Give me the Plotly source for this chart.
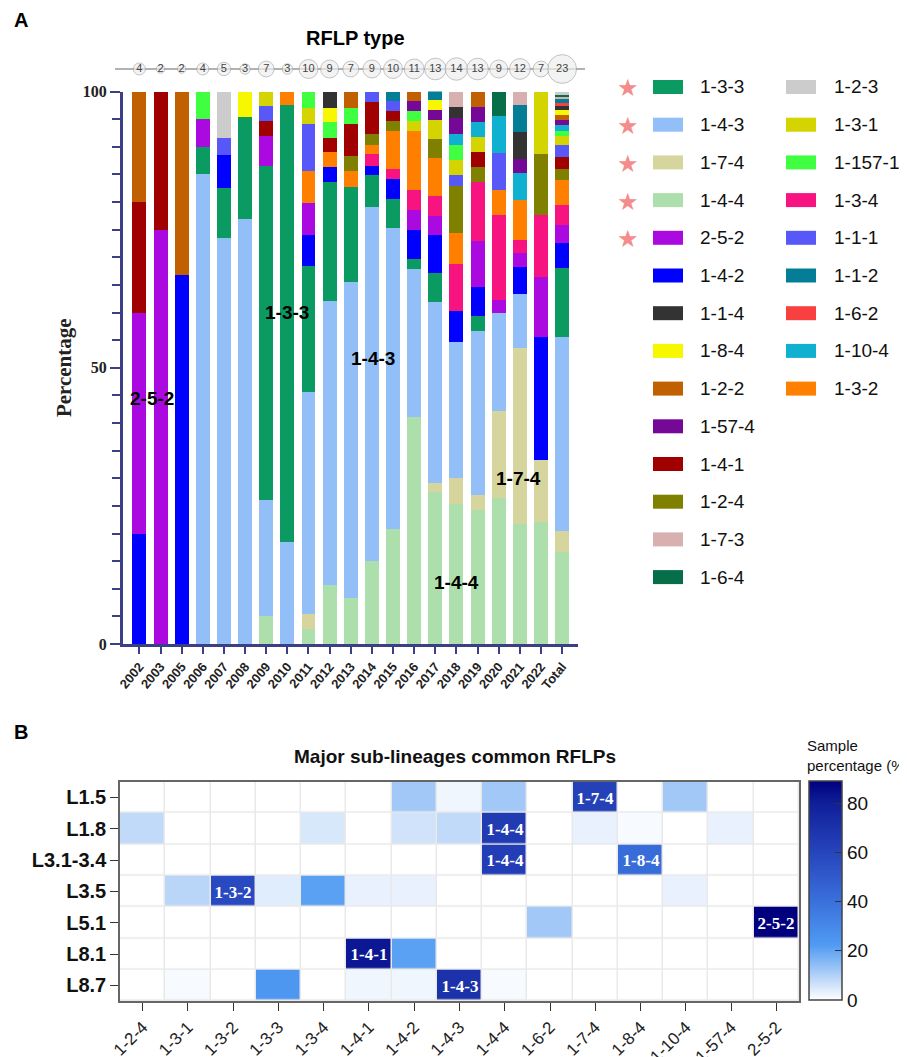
import plotly.graph_objects as go
import numpy as np

# page has an 8px body margin: the figure spans 8..907 x 8..1057 of the window
OFF = 8
W, H = 907 - OFF, 1057 - OFF
def fx(px): return (px - OFF) / W
def fy(py): return 1 - (py - OFF) / H

SANS = "Liberation Sans, Arial, sans-serif"
SERIF = "Liberation Serif, Times New Roman, serif"
NAVY = "#3b3f86"

# ---------------- Panel A data ----------------
years = ["2002", "2003", "2005", "2006", "2007", "2008", "2009", "2010", "2011", "2012",
         "2013", "2014", "2015", "2016", "2017", "2018", "2019", "2020", "2021", "2022", "Total"]
sample_counts = [4, 2, 2, 4, 5, 3, 7, 3, 10, 9, 7, 9, 10, 11, 13, 14, 13, 9, 12, 7, 23]

r_1_4_4 = [0, 0, 0, 0, 0, 0, 5, 0, 2.8, 10.7, 8.4, 15, 20.9, 41, 27.5, 25.3, 24.2, 26.5, 21.8, 22.1, 16.6]
r_1_7_4 = [0, 0, 0, 0, 0, 0, 0, 0, 2.7, 0, 0, 0, 0, 0, 1.7, 4.8, 2.7, 15.6, 31.7, 11.2, 3.9]
r_1_4_3 = [0, 0, 0, 85, 73.5, 77, 21, 18.5, 40.1, 51.3, 57.2, 64.1, 54.4, 26.8, 32.7, 24.5, 29.8, 17.8, 9.8, 0, 35.1]
r_1_3_3 = [0, 0, 0, 5, 9, 18.3, 60.5, 79, 22.9, 21.6, 17.2, 5.7, 5.3, 1.8, 5.2, 0, 2.7, 0, 0, 0, 12.4]
r_1_4_2 = [20, 0, 66.7, 0, 6, 0, 0, 0, 5.6, 2.8, 0, 1.8, 3.5, 5.3, 6.9, 5.7, 5.3, 0, 4.9, 22.2, 4.6]
r_2_5_2 = [40, 75, 0, 5, 0, 0, 5.5, 0, 5.8, 0, 0, 0, 0, 3.6, 3.5, 0, 8.2, 2.3, 2.5, 11, 3.3]
r_1_3_4 = [0, 0, 0, 0, 0, 0, 0, 0, 0, 0, 0, 2.0, 1.8, 3.6, 3.5, 8.4, 10.7, 15.5, 2.4, 11.2, 3.6]
r_1_3_2 = [0, 0, 0, 0, 0, 0, 0, 2.5, 5.7, 2.6, 2.8, 1.8, 6.9, 10.7, 6.9, 5.7, 0, 4.4, 7.3, 0, 4.4]
r_1_2_4 = [0, 0, 0, 0, 0, 0, 0, 0, 0, 0, 2.8, 1.9, 1.8, 0, 3.5, 8.5, 2.7, 0, 0, 11, 2.1]
r_1_4_1 = [20, 25, 0, 0, 0, 0, 2.7, 0, 0, 2.6, 5.8, 5.8, 1.8, 0, 0, 0, 2.7, 0, 0, 0, 2.1]
r_1_1_1 = [0, 0, 0, 0, 3, 0, 2.6, 0, 8.6, 0, 0, 1.9, 1.8, 0, 0, 1.9, 0, 6.7, 0, 0, 2.3]
r_1_3_1 = [0, 0, 0, 0, 0, 0, 2.7, 0, 2.8, 0, 0, 0, 0, 1.8, 3.5, 2.8, 2.7, 0, 0, 11.3, 1.5]
r_1_157_1 = [0, 0, 0, 5, 0, 0, 0, 0, 3.0, 2.8, 2.8, 0, 0, 1.8, 0, 2.8, 0, 0, 0, 0, 0.9]
r_1_10_4 = [0, 0, 0, 0, 0, 0, 0, 0, 0, 0, 0, 0, 0, 0, 0, 1.9, 2.8, 6.7, 4.9, 0, 1.1]
r_1_57_4 = [0, 0, 0, 0, 0, 0, 0, 0, 0, 0, 0, 0, 0, 1.8, 1.7, 2.9, 2.7, 0, 2.4, 0, 0.9]
r_1_2_2 = [20, 0, 33.3, 0, 0, 0, 0, 0, 0, 0, 3.0, 0, 0, 1.8, 0, 0, 2.8, 0, 0, 0, 0.9]
r_1_8_4 = [0, 0, 0, 0, 0, 4.7, 0, 0, 0, 2.7, 0, 0, 0, 0, 1.8, 0, 0, 0, 0, 0, 0.9]
r_1_1_4 = [0, 0, 0, 0, 0, 0, 0, 0, 0, 2.9, 0, 0, 0, 0, 0, 2.0, 0, 0, 4.9, 0, 0.7]
r_1_6_2 = [0, 0, 0, 0, 0, 0, 0, 0, 0, 0, 0, 0, 0, 0, 0, 0, 0, 0, 0, 0, 0.6]
r_1_1_2 = [0, 0, 0, 0, 0, 0, 0, 0, 0, 0, 0, 0, 1.8, 0, 1.8, 0, 0, 0, 4.9, 0, 0.7]
r_1_7_3 = [0, 0, 0, 0, 0, 0, 0, 0, 0, 0, 0, 0, 0, 0, 0, 2.8, 0, 0, 2.5, 0, 0.4]
r_1_6_4 = [0, 0, 0, 0, 0, 0, 0, 0, 0, 0, 0, 0, 0, 0, 0, 0, 0, 4.5, 0, 0, 0.4]
r_1_2_3 = [0, 0, 0, 0, 8.5, 0, 0, 0, 0, 0, 0, 0, 0, 0, 0, 0, 0, 0, 0, 0, 0.6]

# stacking order (bottom -> top)
stack = [
    ("1-4-4", r_1_4_4, "#addfad"), ("1-7-4", r_1_7_4, "#d6d59e"), ("1-4-3", r_1_4_3, "#92bff8"),
    ("1-3-3", r_1_3_3, "#0a9a62"), ("1-4-2", r_1_4_2, "#0000ff"), ("2-5-2", r_2_5_2, "#aa0ae0"),
    ("1-3-4", r_1_3_4, "#f81480"), ("1-3-2", r_1_3_2, "#ff8000"), ("1-2-4", r_1_2_4, "#7f7f00"),
    ("1-4-1", r_1_4_1, "#a00000"), ("1-1-1", r_1_1_1, "#5858f8"), ("1-3-1", r_1_3_1, "#d4d400"),
    ("1-157-1", r_1_157_1, "#40ff40"), ("1-10-4", r_1_10_4, "#10b0d0"), ("1-57-4", r_1_57_4, "#760898"),
    ("1-2-2", r_1_2_2, "#c06000"), ("1-8-4", r_1_8_4, "#f7f700"), ("1-1-4", r_1_1_4, "#333333"),
    ("1-6-2", r_1_6_2, "#f84040"), ("1-1-2", r_1_1_2, "#047d96"), ("1-7-3", r_1_7_3, "#d8b0b0"),
    ("1-6-4", r_1_6_4, "#066e48"), ("1-2-3", r_1_2_3, "#cccccc"),
]
colors = {n: c for n, _, c in stack}

legend_col1 = ["1-3-3", "1-4-3", "1-7-4", "1-4-4", "2-5-2", "1-4-2", "1-1-4", "1-8-4",
               "1-2-2", "1-57-4", "1-4-1", "1-2-4", "1-7-3", "1-6-4"]
legend_col2 = ["1-2-3", "1-3-1", "1-157-1", "1-3-4", "1-1-1", "1-1-2", "1-6-2", "1-10-4", "1-3-2"]
starred = ["1-3-3", "1-4-3", "1-7-4", "1-4-4", "2-5-2"]

bar_labels = [("2-5-2", 0.6, 44.5), ("1-3-3", 7.0, 60), ("1-4-3", 11.05, 51.7),
              ("1-7-4", 17.95, 30), ("1-4-4", 15.0, 11.2)]

# ---------------- Panel B data ----------------
hm_cols = ["1-2-4", "1-3-1", "1-3-2", "1-3-3", "1-3-4", "1-4-1", "1-4-2", "1-4-3",
           "1-4-4", "1-6-2", "1-7-4", "1-8-4", "1-10-4", "1-57-4", "2-5-2"]
hm_rows = ["L1.5", "L1.8", "L3.1-3.4", "L3.5", "L5.1", "L8.1", "L8.7"]
z_L1_5 = [0, 0, 0, 0, 0, 0, 12, 2, 12, 0, 62, 0, 12, 0, 0]
z_L1_8 = [8, 0, 0, 0, 5, 0, 6, 8, 65, 0, 3, 1, 0, 3, 0]
z_L3_1 = [0, 0, 0, 0, 0, 0, 0, 0, 64, 0, 0, 42, 0, 0, 0]
z_L3_5 = [0, 9, 58, 4, 21, 3, 3, 0, 0, 0, 0, 0, 3, 0, 0]
z_L5_1 = [0, 0, 0, 0, 0, 0, 0, 0, 0, 12, 0, 0, 0, 0, 89]
z_L8_1 = [0, 0, 0, 0, 0, 82, 21, 0, 0, 0, 0, 0, 0, 0, 0]
z_L8_7 = [0, 1, 0, 24, 0, 2, 2, 70, 1, 0, 0, 0, 0, 0, 0]
z = [z_L1_5, z_L1_8, z_L3_1, z_L3_5, z_L5_1, z_L8_1, z_L8_7]
hm_text = [[hm_cols[j] if v >= 40 else "" for j, v in enumerate(row)] for row in z]

fig = go.Figure()

for name, vals, col in stack:
    fig.add_trace(go.Bar(x=years, y=vals, name=name, marker=dict(color=col, line=dict(width=0)),
                         showlegend=False, xaxis="x", yaxis="y", width=0.66))

# sample-size circles
fig.add_trace(go.Scatter(
    x=years, y=[0] * len(years), mode="markers+text", text=[str(c) for c in sample_counts],
    textposition="middle center", textfont=dict(size=11, color="#444", family=SANS),
    marker=dict(size=[6 * np.sqrt(c) for c in sample_counts], color="#eeeeee",
                line=dict(color="#aaaaaa", width=1)),
    xaxis="x", yaxis="y3", showlegend=False, cliponaxis=False, hoverinfo="skip"))

fig.add_trace(go.Heatmap(
    z=z, x=hm_cols, y=hm_rows, text=hm_text, texttemplate="%{text}",
    textfont=dict(family=SERIF, size=17, color="white", weight="bold"),
    colorscale=[[0, "#ffffff"], [0.1, "#bad6f8"], [0.25, "#509bf3"], [0.45, "#3a70dc"],
                [0.7, "#2440b8"], [0.9, "#0f1f98"], [1, "#00007f"]],
    zmin=0, zmax=89, xgap=1.5, ygap=1.5, xaxis="x2", yaxis="y2",
    colorbar=dict(x=fx(809), xanchor="left", xpad=0, y=fy(890.4), yanchor="middle", ypad=0,
                  lenmode="pixels", len=219, thickness=33, outlinewidth=1.5, outlinecolor="#444",
                  tickvals=[0, 20, 40, 60, 80], ticks="inside", ticklen=7, tickcolor="#333",
                  tickfont=dict(size=19, family=SANS, color="#111"))))

shapes = []
annotations = []

# line behind circles
shapes.append(dict(type="line", xref="paper", yref="y3", x0=fx(115), x1=fx(585), y0=0, y1=0,
                   line=dict(color="#999999", width=1.5), layer="below"))
# heatmap gap background
shapes.append(dict(type="rect", xref="x2 domain", yref="y2 domain", x0=0, x1=1, y0=0, y1=1,
                   fillcolor="#e9e9e9", line=dict(width=0), layer="below"))

# custom legend
def legend_item(name, xs, xt, i):
    yc = 87 + 37.7 * i
    shapes.append(dict(type="rect", xref="paper", yref="paper", x0=fx(xs), x1=fx(xs + 30),
                       y0=fy(yc + 7), y1=fy(yc - 7), fillcolor=colors[name], line=dict(width=0)))
    annotations.append(dict(xref="paper", yref="paper", x=fx(xt), y=fy(yc), text=name, showarrow=False,
                            xanchor="left", yanchor="middle", font=dict(size=19, family=SANS, color="#111")))
    if name in starred:
        annotations.append(dict(xref="paper", yref="paper", x=fx(628), y=fy(yc), text="★", showarrow=False,
                                xanchor="center", yanchor="middle", font=dict(size=24, color="#f58c8c")))

for i, n in enumerate(legend_col1):
    legend_item(n, 653, 698, i)
for i, n in enumerate(legend_col2):
    legend_item(n, 786, 832, i)

for txt, xi, yv in bar_labels:
    annotations.append(dict(xref="x", yref="y", x=xi, y=yv, text=txt, showarrow=False,
                            font=dict(size=19, family=SANS, color="black", weight="bold")))

annotations += [
    dict(xref="paper", yref="paper", x=fx(12), y=fy(20), text="A", showarrow=False, xanchor="left",
         yanchor="middle", font=dict(size=20, family=SANS, color="black", weight="bold")),
    dict(xref="paper", yref="paper", x=fx(12), y=fy(732), text="B", showarrow=False, xanchor="left",
         yanchor="middle", font=dict(size=20, family=SANS, color="black", weight="bold")),
    dict(xref="paper", yref="paper", x=fx(355), y=fy(38), text="RFLP type", showarrow=False,
         yanchor="middle", font=dict(size=20, family=SANS, color="black", weight="bold")),
    dict(xref="paper", yref="paper", x=fx(455), y=fy(756), text="Major sub-lineages common RFLPs",
         showarrow=False, yanchor="middle", font=dict(size=19, family=SANS, color="#111", weight="bold")),
    dict(xref="paper", yref="paper", x=fx(805), y=fy(735), text="Sample<br>percentage (%)",
         showarrow=False, xanchor="left", yanchor="top", align="left",
         font=dict(size=15, family=SANS, color="#111")),
]

fig.update_layout(
    width=W, height=H, margin=dict(l=0, r=0, t=0, b=0, autoexpand=False),
    paper_bgcolor="white", plot_bgcolor="white", barmode="stack", bargap=0.34,
    showlegend=False, shapes=shapes, annotations=annotations,
    xaxis=dict(domain=[fx(123), fx(578)], type="category", range=[-0.775, 20.75],
               showline=True, linecolor=NAVY, linewidth=3, ticks="outside", ticklen=7,
               tickwidth=2, tickcolor=NAVY, tickangle=-50, automargin=False,
               tickfont=dict(size=13, family=SANS, color="#222", weight="bold"),
               showgrid=False, anchor="y", fixedrange=True),
    yaxis=dict(domain=[fy(644), fy(91.5)], range=[0, 100], tickvals=[0, 50, 100],
               showline=True, linecolor=NAVY, linewidth=3, ticks="outside", ticklen=10,
               tickwidth=2, tickcolor=NAVY, automargin=False,
               minor=dict(dtick=5, ticks="outside", ticklen=8, tickwidth=2, tickcolor=NAVY),
               tickfont=dict(size=16, family=SERIF, color="#222", weight="bold"),
               title=dict(text="Percentage", standoff=6,
                          font=dict(size=21, family=SERIF, color="#222", weight="bold")),
               showgrid=False, zeroline=False, anchor="x"),
    yaxis3=dict(domain=[fy(80), fy(58)], range=[-1, 1], visible=False, anchor="x"),
    xaxis2=dict(domain=[fx(120), fx(799)], anchor="y2", showline=True, mirror=True, linecolor="#666",
                linewidth=1.5, ticks="outside", ticklen=8, tickcolor="#333", tickangle=-45,
                automargin=False, tickfont=dict(size=17, family=SANS, color="#222"), showgrid=False),
    yaxis2=dict(domain=[fy(1001), fy(781.7)], anchor="x2", showline=True, mirror=True, linecolor="#666",
                linewidth=1.5, ticks="outside", ticklen=8, tickcolor="#333", autorange="reversed",
                automargin=False,
                tickfont=dict(size=20, family=SANS, color="#111", weight="bold"), showgrid=False),
)

fig.write_html("out.html")
